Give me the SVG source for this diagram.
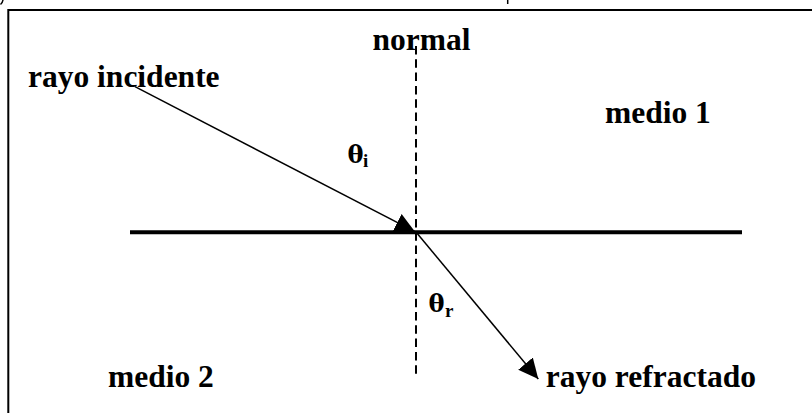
<svg xmlns="http://www.w3.org/2000/svg" width="812" height="413" viewBox="0 0 812 413">
  <style>
    .lbl { font-family: "Liberation Serif", "Times New Roman", serif; font-weight: bold; font-size: 31.5px; fill: #000; }
    .greek { font-family: "DejaVu Serif", "Liberation Serif", serif; font-weight: bold; font-size: 24px; fill: #000; }
    .sub { font-family: "Liberation Serif", "Times New Roman", serif; font-weight: bold; font-size: 19px; fill: #000; }
    .ray { stroke: #000; stroke-width: 1.5; fill: none; }
  </style>
  <defs>
    <marker id="arrow" viewBox="0 0 20 20" refX="20" refY="10" markerWidth="20" markerHeight="20" markerUnits="userSpaceOnUse" orient="auto">
      <path d="M0,0.5 L20,10 L0,19.5 Z" fill="#000"/>
    </marker>
  </defs>
  <rect width="812" height="413" fill="#fff"/>
  <!-- cut-off fragments at top of page -->
  <path d="M0.5,4.5 Q2.5,3 3,0" stroke="#000" stroke-width="1.5" fill="none"/>
  <line x1="507.7" y1="0" x2="507.7" y2="4" stroke="#000" stroke-width="1.5"/>
  <!-- frame -->
  <rect id="frame" x="8.3" y="10" width="900" height="500" fill="none" stroke="#000" stroke-width="2"/>

  <g id="normal">
    <line x1="416" y1="46" x2="416" y2="378" stroke="#000" stroke-width="2" stroke-dasharray="8.5 4.8"/>
    <text class="lbl" x="372.5" y="50">normal</text>
  </g>

  <g id="interface">
    <line x1="130" y1="232.3" x2="742" y2="232.3" stroke="#000" stroke-width="4"/>
  </g>

  <g id="connectors">
    <line id="incident" class="ray" x1="135" y1="86.7" x2="415" y2="231.7" marker-end="url(#arrow)"/>
    <line id="refracted" class="ray" x1="416" y1="232" x2="538.3" y2="379" marker-end="url(#arrow)"/>
  </g>

  <g id="rayo-incidente"><text class="lbl" x="28" y="86.5">rayo incidente</text></g>
  <g id="theta-i"><text class="greek" x="347.5" y="163">θ</text><text class="sub" x="363" y="166.5">i</text></g>
  <g id="theta-r"><text class="greek" x="428.5" y="312">θ</text><text class="sub" x="445" y="316.5">r</text></g>
  <g id="medio-1"><text class="lbl" x="605" y="123.3">medio 1</text></g>
  <g id="medio-2"><text class="lbl" x="108" y="386.7">medio 2</text></g>
  <g id="rayo-refractado"><text class="lbl" x="545.7" y="386.7">rayo refractado</text></g>
</svg>
